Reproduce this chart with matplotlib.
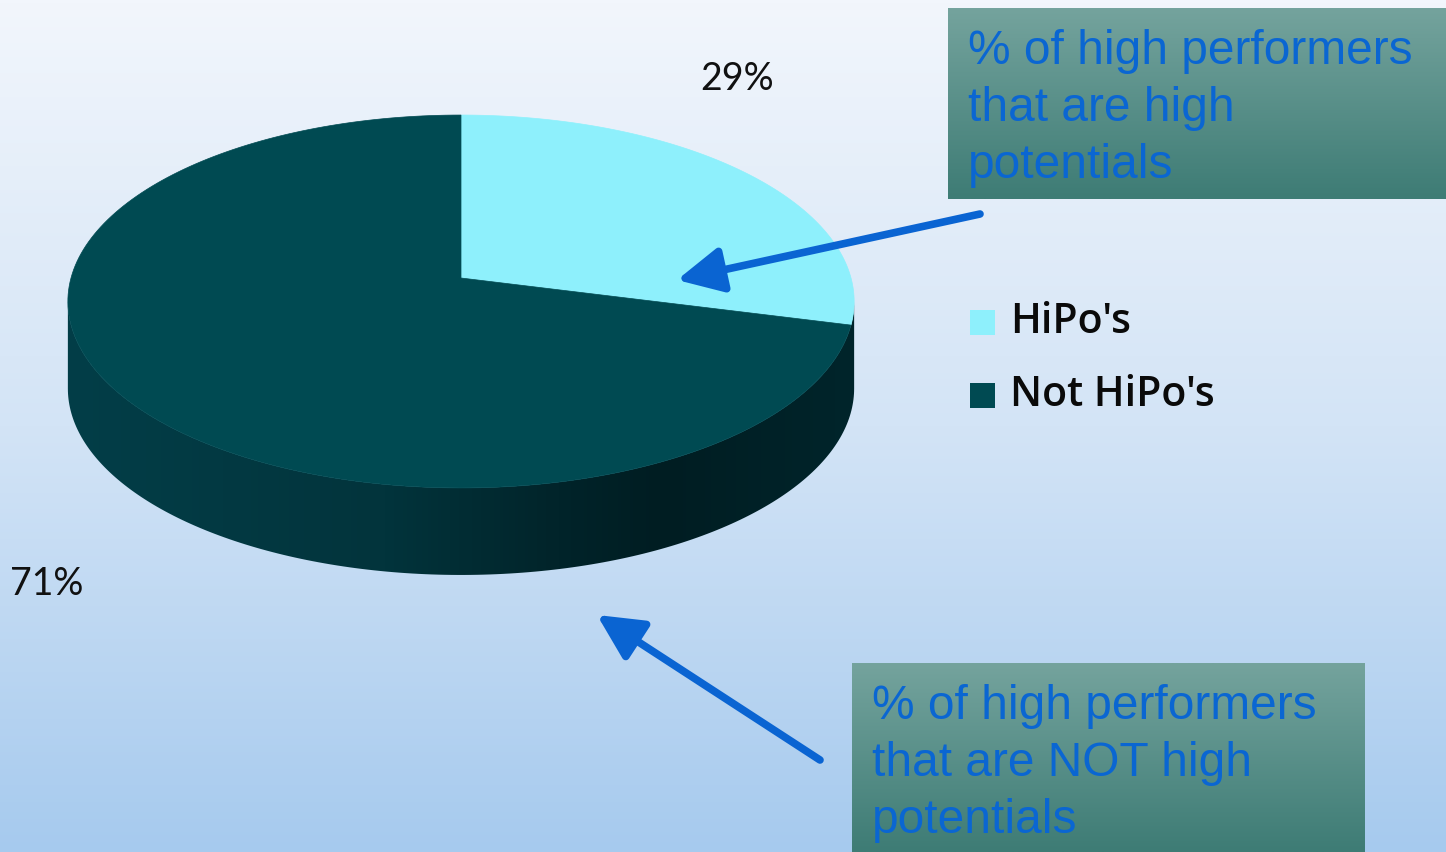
import numpy as np
import matplotlib
matplotlib.use("Agg")
import matplotlib.pyplot as plt
from matplotlib.colors import LinearSegmentedColormap
from matplotlib.patches import Polygon, Rectangle

# data
labels = ["HiPo's", "Not HiPo's"]
values = [29, 71]
pct_labels = ["29%", "71%"]
colors = ["#8EF0FC", "#004A52"]
notes = [["% of high performers", "that are high", "potentials"],
         ["% of high performers", "that are NOT high", "potentials"]]

W, H = 1446, 852
fig = plt.figure(figsize=(W / 100, H / 100), dpi=100)
ax = fig.add_axes([0, 0, 1, 1])
ax.set_xlim(0, W)
ax.set_ylim(H, 0)
ax.axis("off")

# background gradient
bg = LinearSegmentedColormap.from_list("bg", ["#F2F6FC", "#D3E4F6", "#A6CAEE"])
ax.imshow(np.linspace(0, 1, 256).reshape(-1, 1), cmap=bg, aspect="auto",
          extent=[0, W, H, 0], zorder=0)

# perspective disc
cx, cy, A, B, k, depth = 461, 278, 390, 183.5, 0.126, 87


def proj(theta, drop=0.0):
    u, v = np.cos(theta), np.sin(theta)
    d = 1 + k * v
    return cx + A * u / d, cy - B * v / d + drop


# side of the cylinder
t0 = np.pi + np.arcsin(k)
t1 = 2 * np.pi - np.arcsin(k)
ts = np.linspace(t0, t1, 200)
xt, yt = proj(ts)
xb, yb = proj(ts[::-1], depth)
side = Polygon(np.column_stack([np.r_[xt, xb], np.r_[yt, yb]]), closed=True,
               facecolor="none", edgecolor="none")
ax.add_patch(side)
side_cmap = LinearSegmentedColormap.from_list(
    "side", [(0, "#023E48"), (0.4, "#02343C"), (0.62, "#01242A"),
             (0.75, "#001D22"), (1, "#00252B")])
im = ax.imshow(np.linspace(0, 1, 256).reshape(1, -1), cmap=side_cmap,
               aspect="auto", extent=[65, 860, 600, 280], zorder=2)
im.set_clip_path(side)

# top face wedges, clockwise from 12 o'clock
total = sum(values)
start = 90.0
for val, col in zip(values, colors):
    end = start - 360.0 * val / total
    th = np.radians(np.linspace(start, end, 200))
    x, y = proj(th)
    pts = np.column_stack([np.r_[cx, x], np.r_[cy, y]])
    ax.add_patch(Polygon(pts, closed=True, facecolor=col, edgecolor=col,
                         lw=0.5, zorder=3))
    start = end

# percentage labels
ax.text(737, 79, pct_labels[0], fontsize=27, family="Lato", color="#111111",
        ha="center", va="center", zorder=4)
ax.text(47, 584, pct_labels[1], fontsize=27, family="Lato", color="#111111",
        ha="center", va="center", zorder=4)

# legend
for i, (lab, col) in enumerate(zip(labels, colors)):
    yy = 322 + i * 73
    ax.add_patch(Rectangle((970, yy - 12.5), 25, 25, facecolor=col,
                           edgecolor="none", zorder=4))
    ax.text(1010, yy, lab, fontsize=29.5, family="Open Sans", weight="semibold",
            color="#0A0A0A", ha="left", va="center", zorder=4)

# note boxes
box_cmap = LinearSegmentedColormap.from_list("box", ["#74A39D", "#3E7C75"])
boxes = [(948, 8, 1446, 199), (852, 663, 1365, 852)]
for (x0, y0, x1, y1), lines in zip(boxes, notes):
    ax.imshow(np.linspace(0, 1, 64).reshape(-1, 1), cmap=box_cmap,
              aspect="auto", extent=[x0, x1, y1, y0], zorder=5)
    for j, line in enumerate(lines):
        ax.text(x0 + 20, y0 + 56 + 57 * j, line, fontsize=34.5,
                family="Liberation Sans", color="#0A66D2", ha="left",
                va="baseline", zorder=6)

# arrows
arrow_kw = dict(arrowstyle="-|>,head_length=1.1,head_width=0.55",
                color="#0A64D2", lw=5.5, mutation_scale=25,
                shrinkA=0, shrinkB=0)
ax.annotate("", xy=(677, 280), xytext=(980, 214), arrowprops=arrow_kw,
            zorder=7)
ax.annotate("", xy=(597, 615), xytext=(820, 760), arrowprops=arrow_kw,
            zorder=7)

ax.set_xlim(0, W)
ax.set_ylim(H, 0)
fig.savefig("out.png", dpi=100)
